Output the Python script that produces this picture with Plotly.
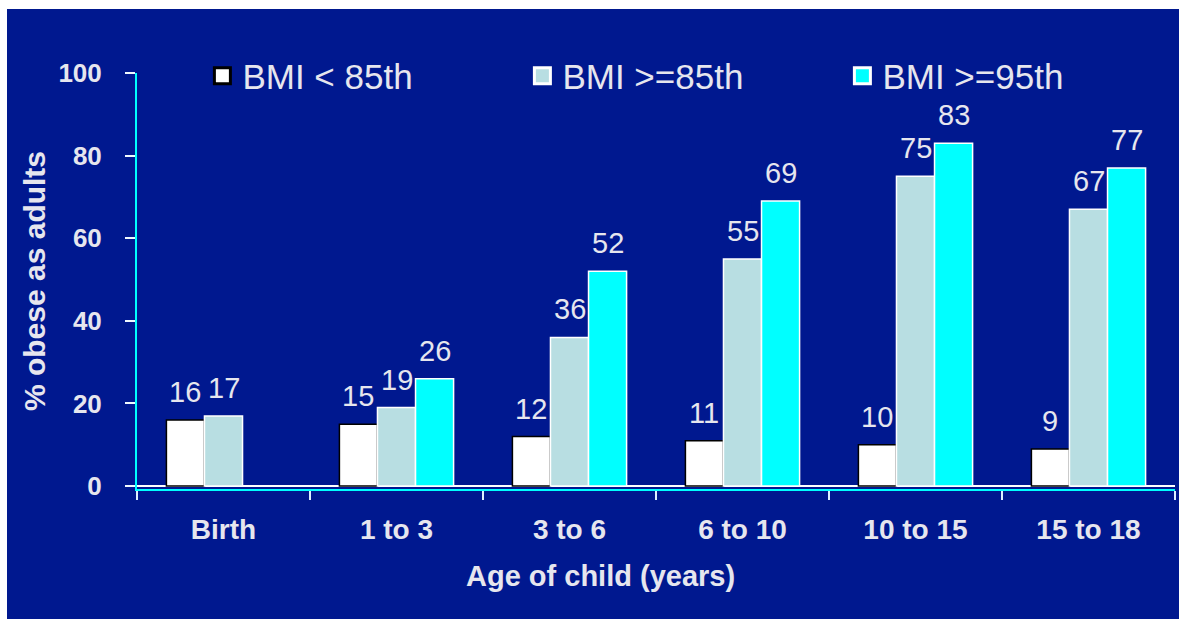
import plotly.graph_objects as go

categories = ["Birth", "1 to 3", "3 to 6", "6 to 10", "10 to 15", "15 to 18"]
series_names = ["BMI < 85th", "BMI >=85th", "BMI >=95th"]
bmi_lt85 = [16, 15, 12, 11, 10, 9]
bmi_ge85 = [17, 19, 36, 55, 75, 67]
bmi_ge95 = [None, 26, 52, 69, 83, 77]
y_ticks = [0, 20, 40, 60, 80, 100]

series_values = [bmi_lt85, bmi_ge85, bmi_ge95]
fill_colors = ["#FFFFFF", "#B8DEE2", "#00FFFF"]
line_colors = ["#000000", "#FFFFFF", "#FFFFFF"]

NAVY = "#00188F"
TXT = "#E6E6EE"
FONT = "Liberation Sans, Arial, sans-serif"

W, H = 1179, 619
ML, MR, MT, MB = 137, 4, 73, 130
PW = W - ML - MR
PH = H - MT - MB
BARGAP = 0.34

fig = go.Figure()
for name, vals, fc, lc in zip(series_names, series_values, fill_colors, line_colors):
    fig.add_trace(go.Bar(
        name=name, x=categories, y=vals, legendgroup=name, showlegend=False,
        marker=dict(color=fc, line=dict(color=lc, width=1.5)),
        hoverinfo="x+y",
    ))

# legend entries with larger square swatches
for name, fc, lc in zip(series_names, fill_colors, line_colors):
    fig.add_trace(go.Scatter(
        name=name, x=[None], y=[None], mode="markers", legendgroup=name,
        marker=dict(symbol="square", size=16, color=fc, line=dict(color=lc, width=3)),
        hoverinfo="skip",
    ))

bar_px = PW / len(categories) * (1 - BARGAP) / len(series_names)
annotations = []
for i, vals in enumerate(series_values):
    for c, v in zip(categories, vals):
        if v is None:
            continue
        annotations.append(dict(
            x=c, y=v, xref="x", yref="y", text=str(v), showarrow=False,
            yanchor="bottom", xanchor="center",
            xshift=(i - (len(series_names) - 1) / 2) * bar_px, yshift=10,
            font=dict(family=FONT, size=29, color=TXT),
        ))

annotations.append(dict(
    x=0.447, y=-0.21, xref="paper", yref="paper", text="Age of child (years)",
    showarrow=False, xanchor="center", yanchor="middle",
    font=dict(family=FONT, size=29, color=TXT, weight="bold"),
))

# navy panel (white margin strip at top and left)
shapes = [dict(
    type="rect", xref="paper", yref="paper", layer="below",
    x0=(7 - ML) / PW, x1=(W + 5 - ML) / PW,
    y0=(PH - (H + 5 - MT)) / PH, y1=(PH - (9 - MT)) / PH,
    fillcolor=NAVY, line=dict(width=0),
)]

fig.update_layout(
    width=W, height=H,
    margin=dict(l=ML, r=MR, t=MT, b=MB),
    paper_bgcolor="#FFFFFF", plot_bgcolor=NAVY,
    barmode="group", bargap=BARGAP, bargroupgap=0,
    font=dict(family=FONT, color=TXT),
    showlegend=True,
    legend=dict(
        orientation="h", x=0.063, xanchor="left", y=0.993, yanchor="middle",
        font=dict(family=FONT, size=35, color=TXT),
        bgcolor="rgba(0,0,0,0)", entrywidth=275, entrywidthmode="pixels",
        traceorder="normal", itemsizing="trace",
    ),
    annotations=annotations,
    shapes=shapes,
    xaxis=dict(
        showline=True, linecolor="#00FFFF", linewidth=2,
        ticks="outside", tickson="boundaries", ticklen=9, tickwidth=2,
        tickcolor="#DDEFFF", ticklabelstandoff=14,
        tickfont=dict(family=FONT, size=28, color=TXT, weight="bold"),
        showgrid=False, zeroline=False,
    ),
    yaxis=dict(
        range=[-0.7, 100], tickvals=y_ticks, ticktext=[str(t) for t in y_ticks],
        showline=True, linecolor="#00FFFF", linewidth=2,
        ticks="outside", ticklen=10, tickwidth=2, tickcolor="#F0F8FF",
        ticklabelstandoff=18,
        tickfont=dict(family=FONT, size=26, color=TXT, weight="bold"),
        showgrid=False, zeroline=True, zerolinecolor="#FFFFFF", zerolinewidth=1.5,
        title=dict(text="% obese as adults", standoff=4,
                   font=dict(family=FONT, size=30, color=TXT, weight="bold")),
    ),
)

fig.write_html("out.html")
